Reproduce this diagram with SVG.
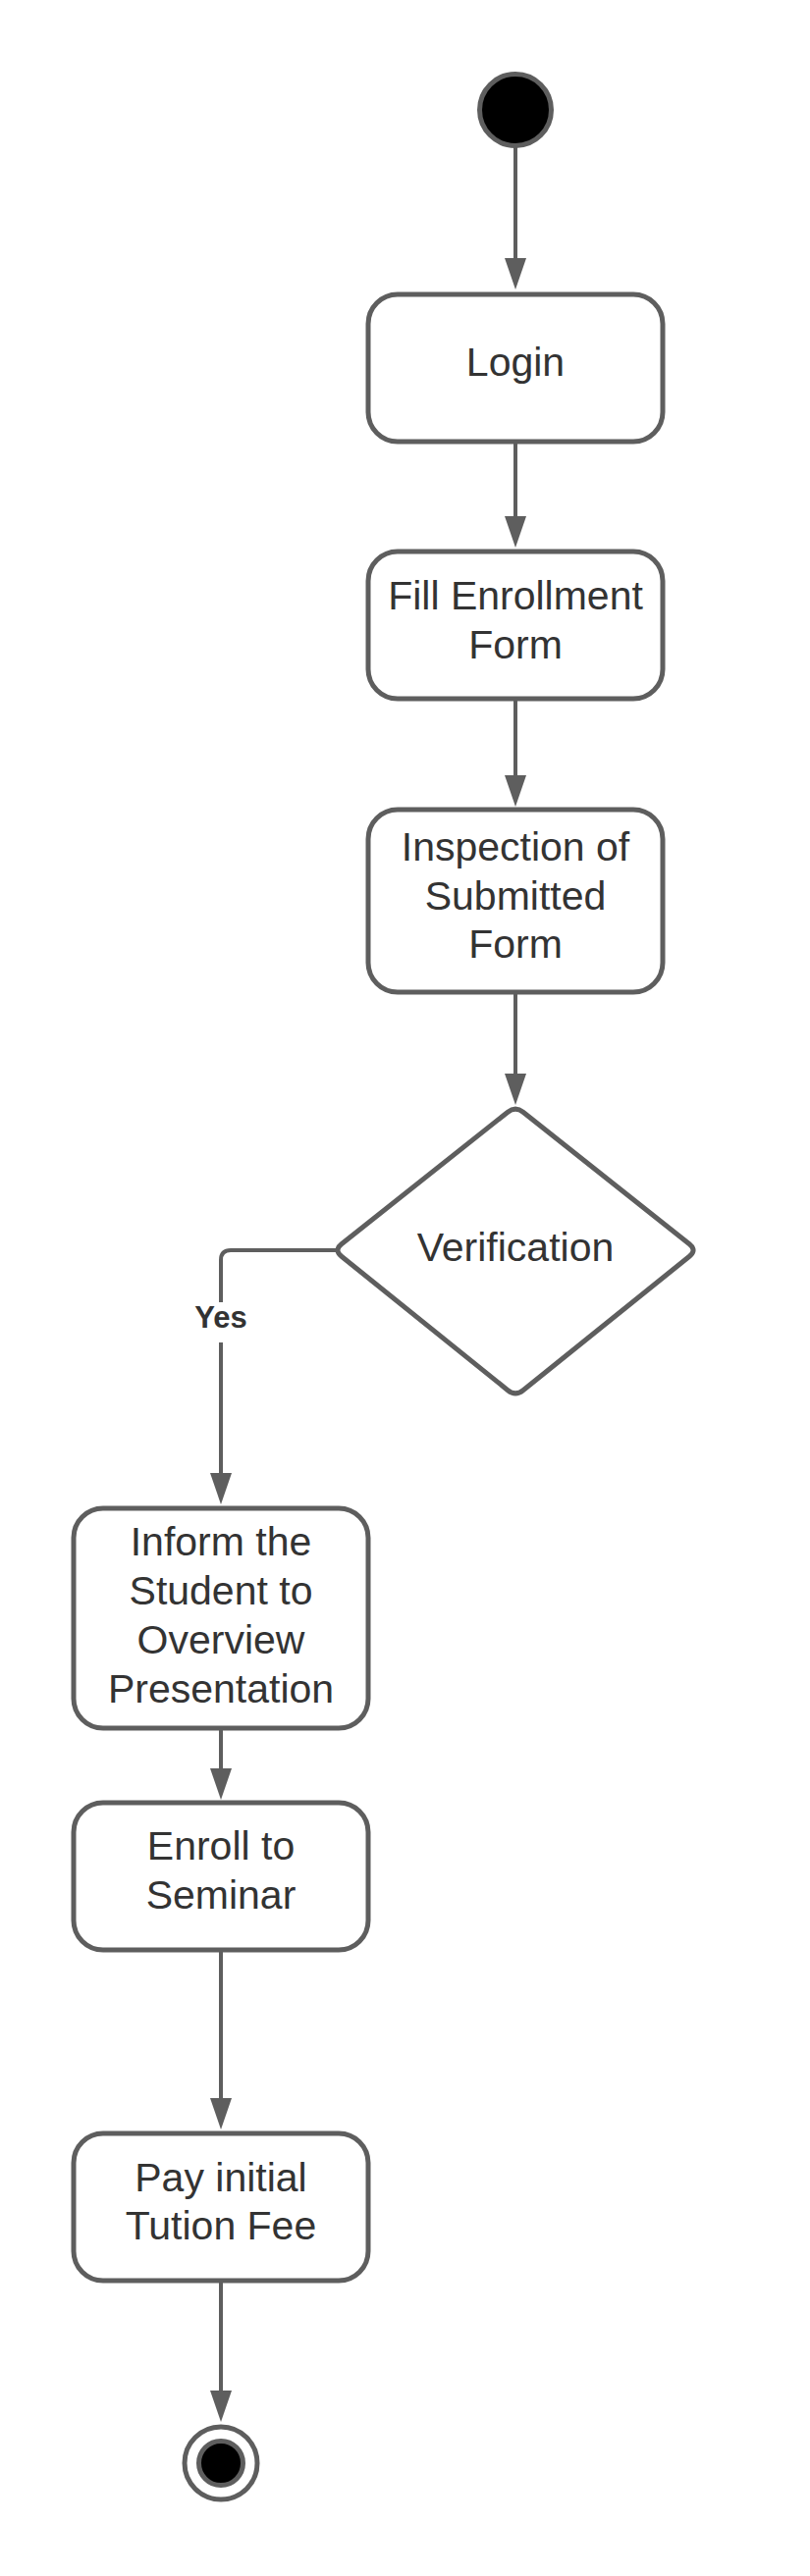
<svg xmlns="http://www.w3.org/2000/svg" width="825" height="2625" viewBox="0 0 825 2625">
<style>
.box{fill:#ffffff;stroke:#5e5e5e;stroke-width:5}
.lbl{font-family:"Liberation Sans",Arial,sans-serif;font-size:41px;fill:#333333;text-anchor:middle}
.edge{fill:none;stroke:#5e5e5e;stroke-width:4}
.yes{font-family:"Liberation Sans",Arial,sans-serif;font-size:31px;font-weight:bold;fill:#333333;text-anchor:middle}
</style>
<defs>
<marker id="arr" markerUnits="userSpaceOnUse" markerWidth="32" markerHeight="22" refX="12" refY="11" orient="auto">
<path d="M0,0 L32,11 L0,22 Z" fill="#5e5e5e"/>
</marker>
</defs>
<rect width="825" height="2625" fill="#ffffff"/>
<g id="connectors">
<path class="edge" d="M525,150 V275" marker-end="url(#arr)"/>
<path class="edge" d="M525,450 V538" marker-end="url(#arr)"/>
<path class="edge" d="M525,712 V802" marker-end="url(#arr)"/>
<path class="edge" d="M525,1011 V1106" marker-end="url(#arr)"/>
<path class="edge" d="M344,1274 H235 Q225,1274 225,1284 V1513" marker-end="url(#arr)"/>
<rect x="195" y="1327" width="60" height="41" fill="#ffffff"/>
<text class="yes" x="225" y="1353">Yes</text>
<path class="edge" d="M225,1761 V1814" marker-end="url(#arr)"/>
<path class="edge" d="M225,1987 V2150" marker-end="url(#arr)"/>
<path class="edge" d="M225,2324 V2448" marker-end="url(#arr)"/>
</g>
<g id="start">
<circle cx="525" cy="112" r="36.5" fill="#000000" stroke="#5e5e5e" stroke-width="5"/>
</g>
<g id="login">
<rect class="box" x="375" y="300" width="300" height="150" rx="30"/>
<text class="lbl" x="525" y="383">Login</text>
</g>
<g id="fill-form">
<rect class="box" x="375" y="562" width="300" height="150" rx="30"/>
<text class="lbl" x="525" y="621">Fill Enrollment</text>
<text class="lbl" x="525" y="670.5">Form</text>
</g>
<g id="inspection">
<rect class="box" x="375" y="825" width="300" height="186" rx="30"/>
<text class="lbl" x="525" y="877">Inspection of</text>
<text class="lbl" x="525" y="926.5">Submitted</text>
<text class="lbl" x="525" y="976">Form</text>
</g>
<g id="verification">
<path d="M532.8,1133.2 L702.2,1267.8 Q710,1274 702.2,1280.3 L532.8,1416.7 Q525,1423 517.2,1416.7 L347.8,1280.3 Q340,1274 347.8,1267.8 L517.2,1133.2 Q525,1127 532.8,1133.2 Z" fill="#ffffff" stroke="#5e5e5e" stroke-width="5" stroke-linejoin="round"/>
<text class="lbl" x="525" y="1285">Verification</text>
</g>
<g id="inform">
<rect class="box" x="75" y="1537" width="300" height="224" rx="30"/>
<text class="lbl" x="225" y="1585">Inform the</text>
<text class="lbl" x="225" y="1635">Student to</text>
<text class="lbl" x="225" y="1685">Overview</text>
<text class="lbl" x="225" y="1735">Presentation</text>
</g>
<g id="enroll">
<rect class="box" x="75" y="1837" width="300" height="150" rx="30"/>
<text class="lbl" x="225" y="1895">Enroll to</text>
<text class="lbl" x="225" y="1944.5">Seminar</text>
</g>
<g id="pay">
<rect class="box" x="75" y="2174" width="300" height="150" rx="30"/>
<text class="lbl" x="225" y="2232.5">Pay initial</text>
<text class="lbl" x="225" y="2282">Tution Fee</text>
</g>
<g id="end">
<circle cx="225" cy="2510" r="37" fill="#ffffff" stroke="#5e5e5e" stroke-width="5"/>
<circle cx="225" cy="2510" r="22.5" fill="#000000" stroke="#5e5e5e" stroke-width="5"/>
</g>
</svg>
